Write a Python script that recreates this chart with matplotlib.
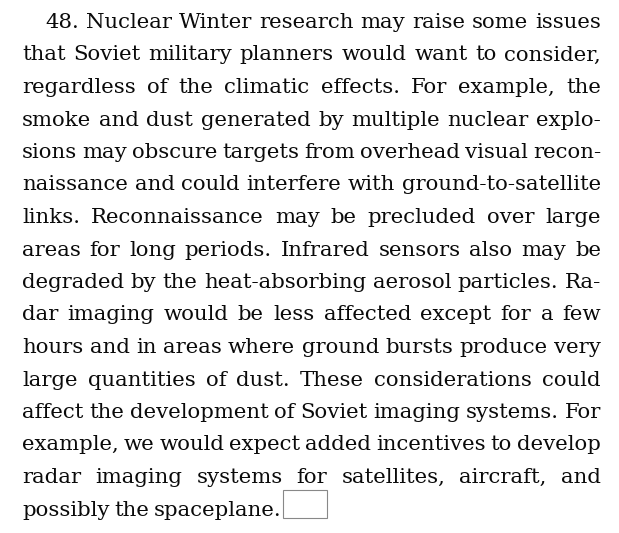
import matplotlib.pyplot as plt
from matplotlib.patches import Rectangle

# paragraph text, one entry per printed line
lines = [
    "48. Nuclear Winter research may raise some issues",
    "that Soviet military planners would want to consider,",
    "regardless of the climatic effects. For example, the",
    "smoke and dust generated by multiple nuclear explo-",
    "sions may obscure targets from overhead visual recon-",
    "naissance and could interfere with ground-to-satellite",
    "links. Reconnaissance may be precluded over large",
    "areas for long periods. Infrared sensors also may be",
    "degraded by the heat-absorbing aerosol particles. Ra-",
    "dar imaging would be less affected except for a few",
    "hours and in areas where ground bursts produce very",
    "large quantities of dust. These considerations could",
    "affect the development of Soviet imaging systems. For",
    "example, we would expect added incentives to develop",
    "radar imaging systems for satellites, aircraft, and",
    "possibly the spaceplane.",
]

W, H = 619, 533
left, right = 22, 601
indent = 45
top_base, step = 28, 32.5
fsize = 15.3

fig = plt.figure(figsize=(W / 100, H / 100), dpi=100)
ax = fig.add_axes([0, 0, 1, 1])
ax.set_xlim(0, W)
ax.set_ylim(H, 0)
ax.axis('off')

font = dict(family=['DejaVu Serif'], size=fsize, color='#0a0a0a')
renderer = fig.canvas.get_renderer()

def width_of(s):
    t = ax.text(0, 0, s, **font)
    w = t.get_window_extent(renderer).width
    t.remove()
    return w

space_w = width_of("a a") - width_of("aa")

for i, line in enumerate(lines):
    y = top_base + step * i
    x0 = indent if i == 0 else left
    words = line.split(" ")
    widths = [width_of(w) for w in words]
    last = i == len(lines) - 1
    if last or len(words) == 1:
        gap = space_w * 0.7
    else:
        gap = (right - x0 - sum(widths)) / (len(words) - 1)
    x = x0
    for w, ww in zip(words, widths):
        ax.text(x, y, w, ha='left', va='baseline', **font)
        x += ww + gap
    if last:
        end_x = x - gap

# small empty box after the final line
ax.add_patch(Rectangle((end_x + 2, y - 26), 44, 28, fill=False,
                       edgecolor='#888888', linewidth=0.8))

fig.savefig('out.png', dpi=100, facecolor='white')
